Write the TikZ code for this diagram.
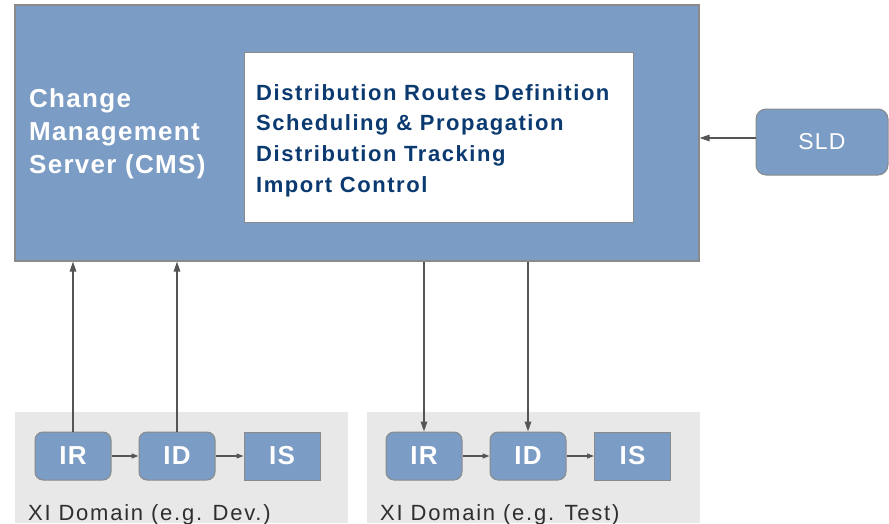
\documentclass[tikz,border=0pt]{standalone}
\usepackage{fontspec}
\setmainfont{Liberation Sans}
\newfontfamily\wideA{Liberation Sans}[LetterSpace=7]
\newfontfamily\wideC{Liberation Sans}[LetterSpace=8]
\newfontfamily\wideB{Liberation Sans}[LetterSpace=5]
\usetikzlibrary{arrows.meta}
\definecolor{boxblue}{HTML}{7B9CC4}
\definecolor{boxline}{HTML}{8A8A8A}
\definecolor{arrowgray}{HTML}{555555}
\definecolor{domgray}{HTML}{E8E8E8}
\definecolor{navy}{HTML}{0B3A70}
\definecolor{labelgray}{HTML}{2E2E2E}
\tikzset{
  cmsbox/.style={draw=boxline, line width=1.2pt, fill=boxblue, minimum width=684pt, minimum height=256pt, inner sep=0pt},
  featbox/.style={draw=boxline, line width=1pt, fill=white, minimum width=389pt, minimum height=170pt, inner sep=0pt},
  rbox/.style={draw=boxline, line width=1pt, fill=boxblue, rounded corners=8pt, minimum width=76pt, minimum height=48pt, inner sep=0pt,
     text=white, font=\wideB\bfseries\fontsize{26}{30}\selectfont},
  sbox/.style={draw=boxline, line width=1pt, fill=boxblue, minimum width=76pt, minimum height=48pt, inner sep=0pt,
     text=white, font=\wideB\bfseries\fontsize{26}{30}\selectfont},
  dombox/.style={fill=domgray, minimum width=333pt, minimum height=111pt, inner sep=0pt},
  domlabel/.style={anchor=base west, inner sep=0pt, text=labelgray, font=\wideC\fontsize{22}{25}\selectfont},
  bigarrow/.style={draw=arrowgray, line width=1.5pt, -{Triangle[length=10pt,width=6.5pt]}},
  smallarrow/.style={draw=arrowgray, line width=1.2pt, -{Triangle[length=7pt,width=5pt]}},
}
\begin{document}
\begin{tikzpicture}[x=1pt,y=-1pt]
\useasboundingbox[fill=white] (0,0) rectangle (889,523);
% CMS
\node[cmsbox] (cms) at (357,133) {};
\node[featbox] (feat) at (438.5,137) {};
\node[anchor=north west, inner sep=0pt, align=left, text=white,
      font=\wideB\bfseries\fontsize{26}{33}\selectfont] (cmstext) at (29,88)
      {Change\\Management\\Server (CMS)};
\node[anchor=north west, inner sep=0pt, align=left, text=navy,
      font=\wideA\bfseries\fontsize{22}{30.7}\selectfont] (feattext) at (256,84)
      {Distribution Routes Definition\\Scheduling \& Propagation\\Distribution Tracking\\Import Control};
% SLD
\node[draw=boxline, line width=1pt, fill=boxblue, rounded corners=10pt, minimum width=132pt, minimum height=66pt,
      inner sep=0pt, text=white, font=\wideB\fontsize{23}{27}\selectfont] (sld) at (822,142) {SLD};
% domains
\node[dombox] (dom1) at (181.5,467.5) {};
\node[dombox] (dom2) at (533.5,467.5) {};
\node[domlabel] (lab1) at (28,520) {XI Domain (e.g. Dev.)};
\node[domlabel] (lab2) at (380,520) {XI Domain (e.g. Test)};
% boxes
\node[rbox] (ir1) at (73,456) {IR};
\node[rbox] (id1) at (177,456) {ID};
\node[sbox] (is1) at (282,456) {IS};
\node[rbox] (ir2) at (424,456) {IR};
\node[rbox] (id2) at (528,456) {ID};
\node[sbox] (is2) at (632.5,456) {IS};
% arrows
\draw[smallarrow] (ir1) -- (id1);
\draw[smallarrow] (id1) -- (is1);
\draw[smallarrow] (ir2) -- (id2);
\draw[smallarrow] (id2) -- (is2);
\draw[bigarrow] (ir1.north) -- (ir1.north |- cms.south);
\draw[bigarrow] (id1.north) -- (id1.north |- cms.south);
\draw[bigarrow] (ir2.north |- cms.south) -- (ir2.north);
\draw[bigarrow] (id2.north |- cms.south) -- (id2.north);
\draw[bigarrow] (sld.west |- 0,138) -- (cms.east |- 0,138);
\end{tikzpicture}
\end{document}
